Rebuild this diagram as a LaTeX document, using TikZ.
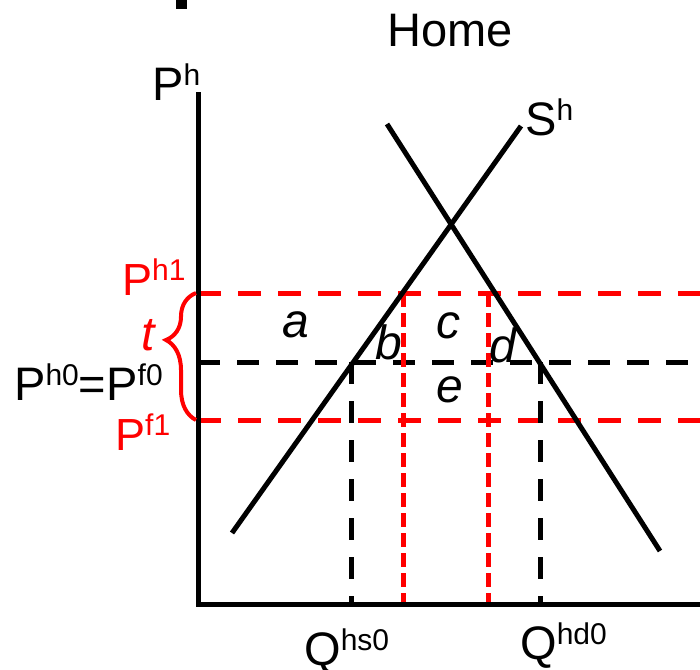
\documentclass[tikz,border=0pt]{standalone}
\usepackage{fontspec}
\setmainfont{Liberation Sans}
\usetikzlibrary{calc, decorations.pathreplacing}

\newcommand{\upper}[1]{\raisebox{15pt}{\fontsize{30}{30}\selectfont #1}}

\begin{document}
\begin{tikzpicture}[x=1pt, y=-1pt,
    curve/.style={line width=5pt},
    blackdash/.style={line width=5pt, dash pattern=on 22pt off 17pt},
    reddash/.style={red, line width=5pt, dash pattern=on 23pt off 17pt},
    redvert/.style={red, line width=5pt, dash pattern=on 14pt off 6pt},
    lbl/.style={font=\fontsize{47}{50}\selectfont, inner sep=0pt},
    redlbl/.style={red, font=\fontsize{45}{48}\selectfont, inner sep=0pt},
    area/.style={font=\fontsize{48}{50}\selectfont\itshape, inner sep=0pt}]
\useasboundingbox (0,0) rectangle (700,669);
\def\pzero{362}
\def\phone{293}
\def\pfone{420}
\def\qaxis{604}

    \coordinate (O) at (198,\qaxis);
    \coordinate (T) at (198,92);
    \coordinate (R) at (700,\qaxis);

    % prices
    \coordinate (H1) at (198,\phone);
    \coordinate (H0) at (198,\pzero);
    \coordinate (F1) at (198,\pfone);
    \draw[reddash] (H1) -- (700,\phone);
    \draw[blackdash] (H0) -- (700,\pzero);
    \draw[reddash] (F1) -- (700,\pfone);

    % quantities
    \coordinate (S0) at (351,\pzero);
    \coordinate (D0) at (540,\pzero);
    \coordinate (S1) at (403,\phone);
    \coordinate (D1) at (488,\phone);
    \draw[blackdash] (S0) -- (S0 |- O);
    \draw[blackdash] (D0) -- (D0 |- O);
    \draw[redvert] (S1) -- (S1 |- O);
    \draw[redvert] (D1) -- (D1 |- O);

    % supply and demand
    \draw[curve] (232,533) coordinate (Sa) -- (521,126) coordinate (Sb); %Supply
    \draw[curve] (387,124) coordinate (Da) -- (660,551) coordinate (Db); %Demand

    % axes
    \draw[curve] (T) -- (O) -- (R);
    \fill (176,0) rectangle (187,9);

    % tariff
    \draw[red, line width=4pt, decorate, decoration={brace, amplitude=30pt, aspect=0.63}] (196,\pfone) -- (196,\phone);

    %Labels
    \node[lbl, anchor=base] (home) at (450,47) {Home};
    \node[lbl, anchor=base west] (ph) at (152,100) {P\upper{h}};
    \node[lbl, anchor=base west] (sh) at (525,135) {S\upper{h}};
    \node[redlbl, anchor=base west] (ph1) at (122,295) {P\upper{h1}};
    \node[redlbl, anchor=base west] (pf1) at (115,450) {P\upper{f1}};
    \node[lbl, anchor=base west] (ph0) at (14,400) {P\upper{h0}=P\upper{f0}};
    \node[area, red] (t) at (148,335) {t};
    \node[lbl, anchor=base west] (qs) at (304,665) {Q\upper{hs0}};
    \node[lbl, anchor=base west] (qd) at (520,659) {Q\upper{hd0}};
    \node[area] (a) at (296,325) {a};
    \node[area] (b) at (389,342) {b};
    \node[area] (c) at (448,326) {c};
    \node[area] (d) at (503,345) {d};
    \node[area] (e) at (450,390) {e};
\end{tikzpicture}
\end{document}
